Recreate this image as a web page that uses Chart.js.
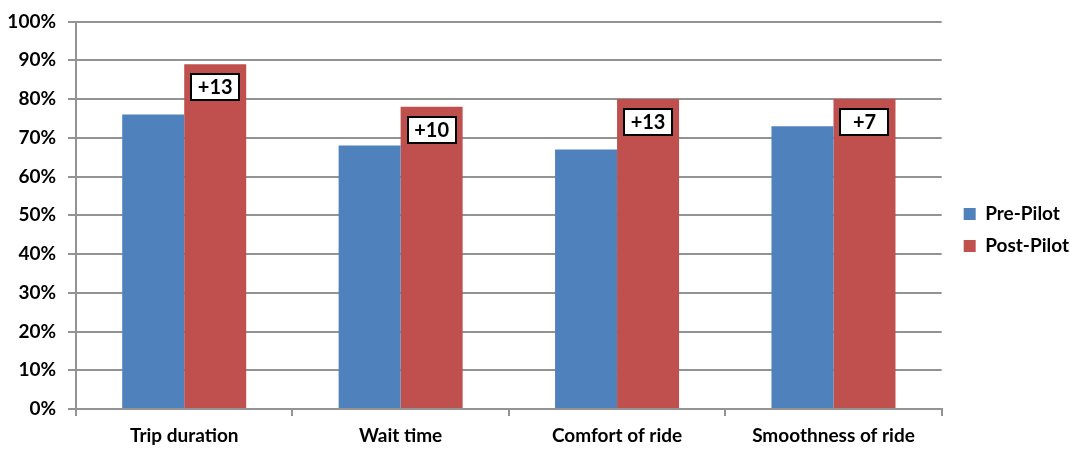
<!DOCTYPE html>
<html>
<head>
<meta charset="utf-8">
<script src="https://cdn.jsdelivr.net/npm/chart.js@4/dist/chart.umd.min.js"></script>
<style>
  html, body { margin: 0; padding: 0; background: #ffffff; }
  #wrap { width: 1070px; height: 451px; }
</style>
</head>
<body>
<div id="wrap"><canvas id="c" width="1070" height="451"></canvas></div>
<script>
// Satisfaction share before and after the pilot, by aspect of the ride
const categories = ['Trip duration', 'Wait time', 'Comfort of ride', 'Smoothness of ride'];
const prePilot = [76, 68, 67, 73];
const postPilot = [89, 78, 80, 80];
const yTicks = [0, 10, 20, 30, 40, 50, 60, 70, 80, 90, 100];

const BLUE = '#4F81BD';
const RED = '#C0504D';
const GRID = '#939393';
const FONT = 'Lato, "Liberation Sans", sans-serif';

// Boxed "+N" change labels inside the post-pilot bars
const changeLabels = {
  id: 'changeLabels',
  afterDatasetsDraw(chart) {
    const ctx = chart.ctx;
    const meta = chart.getDatasetMeta(1);
    ctx.save();
    meta.data.forEach((bar, i) => {
      const diff = postPilot[i] - prePilot[i];
      const w = 50, h = 28;
      const x = Math.round(bar.x - w / 2);
      const y = Math.round(bar.y + 9);
      ctx.fillStyle = '#ffffff';
      ctx.fillRect(x, y, w, h);
      ctx.lineWidth = 2;
      ctx.strokeStyle = '#000000';
      ctx.strokeRect(x + 1, y + 1, w - 2, h - 2);
      ctx.fillStyle = '#000000';
      ctx.font = 'bold 20px ' + FONT;
      ctx.textAlign = 'center';
      ctx.textBaseline = 'middle';
      ctx.fillText('+' + diff, bar.x, y + h / 2 + 1);
    });
    ctx.restore();
  }
};

// Keep the legend a little away from the plot area
const legendShift = {
  id: 'legendShift',
  afterLayout(chart) {
    const lg = chart.legend;
    if (lg) {
      const dx = (chart.chartArea.right + 22) - (lg.left + 13);
      lg.left += dx; lg.right += dx;
      lg.top -= 5; lg.bottom -= 5;
    }
  }
};

new Chart(document.getElementById('c'), {
  type: 'bar',
  data: {
    labels: categories,
    datasets: [
      { label: 'Pre-Pilot', data: prePilot, backgroundColor: BLUE, borderWidth: 0 },
      { label: 'Post-Pilot', data: postPilot, backgroundColor: RED, borderWidth: 0 }
    ]
  },
  options: {
    responsive: false,
    animation: false,
    devicePixelRatio: 1,
    layout: { padding: { top: 19, right: 0, bottom: 0, left: 0 } },
    datasets: { bar: { categoryPercentage: 0.573, barPercentage: 1.0 } },
    plugins: {
      tooltip: { enabled: false },
      legend: {
        position: 'right',
        align: 'center',
        labels: {
          boxWidth: 12,
          boxHeight: 12,
          padding: 13,
          color: '#000000',
          font: { family: FONT, size: 19, weight: 'bold' }
        }
      }
    },
    scales: {
      x: {
        afterFit(scale) { scale.height = 42; },
        grid: {
          display: true,
          drawOnChartArea: false,
          drawTicks: true,
          tickLength: 7,
          color: GRID,
          lineWidth: 2,
          offset: true
        },
        border: { display: true, color: GRID, width: 2 },
        ticks: {
          color: '#000000',
          padding: 8,
          font: { family: FONT, size: 19, weight: 'bold' }
        }
      },
      y: {
        min: 0,
        max: 100,
        afterFit(scale) { scale.width = 76; },
        afterBuildTicks(scale) { scale.ticks = yTicks.map(v => ({ value: v })); },
        grid: {
          color: GRID,
          lineWidth: 2,
          tickLength: 8,
          drawTicks: true
        },
        border: { display: true, color: GRID, width: 2 },
        ticks: {
          color: '#000000',
          padding: 12,
          font: { family: FONT, size: 19, weight: 'bold', lineHeight: 1.0 },
          callback: v => v + '%'
        }
      }
    }
  },
  plugins: [changeLabels, legendShift]
});
</script>
</body>
</html>
